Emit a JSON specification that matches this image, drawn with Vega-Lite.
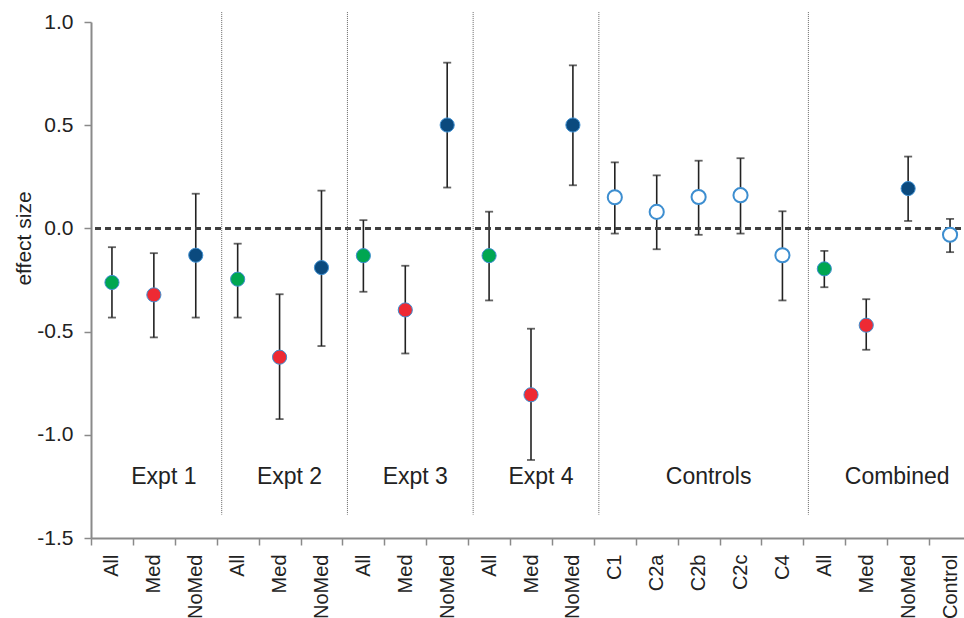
{
  "$schema": "https://vega.github.io/schema/vega-lite/v6.json",
  "autosize": {"type": "none"},
  "padding": {"left": 91, "top": 22, "right": 0, "bottom": 80},
  "width": 880,
  "height": 516,
  "background": "white",
  "config": {
    "view": {"stroke": null},
    "font": "Liberation Sans",
    "axis": {"labelFont": "Liberation Sans", "titleFont": "Liberation Sans"}
  },
  "datasets": {
    "pts": [
      {"id": "1|All", "type": "All", "es": -0.262, "lo": -0.432, "hi": -0.091},
      {"id": "1|Med", "type": "Med", "es": -0.322, "lo": -0.528, "hi": -0.12},
      {"id": "1|NoMed", "type": "NoMed", "es": -0.13, "lo": -0.432, "hi": 0.168},
      {"id": "2|All", "type": "All", "es": -0.246, "lo": -0.432, "hi": -0.074},
      {"id": "2|Med", "type": "Med", "es": -0.624, "lo": -0.924, "hi": -0.319},
      {"id": "2|NoMed", "type": "NoMed", "es": -0.19, "lo": -0.57, "hi": 0.183},
      {"id": "3|All", "type": "All", "es": -0.132, "lo": -0.307, "hi": 0.04},
      {"id": "3|Med", "type": "Med", "es": -0.395, "lo": -0.606, "hi": -0.181},
      {"id": "3|NoMed", "type": "NoMed", "es": 0.501, "lo": 0.198, "hi": 0.803},
      {"id": "4|All", "type": "All", "es": -0.132, "lo": -0.349, "hi": 0.081},
      {"id": "4|Med", "type": "Med", "es": -0.806, "lo": -1.122, "hi": -0.486},
      {"id": "4|NoMed", "type": "NoMed", "es": 0.501, "lo": 0.209, "hi": 0.79},
      {"id": "C|C1", "type": "Control", "es": 0.151, "lo": -0.025, "hi": 0.32},
      {"id": "C|C2a", "type": "Control", "es": 0.08, "lo": -0.101, "hi": 0.257},
      {"id": "C|C2b", "type": "Control", "es": 0.152, "lo": -0.031, "hi": 0.328},
      {"id": "C|C2c", "type": "Control", "es": 0.161, "lo": -0.025, "hi": 0.34},
      {"id": "C|C4", "type": "Control", "es": -0.13, "lo": -0.349, "hi": 0.083},
      {"id": "M|All", "type": "All", "es": -0.196, "lo": -0.285, "hi": -0.109},
      {"id": "M|Med", "type": "Med", "es": -0.469, "lo": -0.588, "hi": -0.343},
      {"id": "M|NoMed", "type": "NoMed", "es": 0.193, "lo": 0.036, "hi": 0.348},
      {"id": "M|Control", "type": "Control", "es": -0.031, "lo": -0.115, "hi": 0.046}
    ],
    "seps": [
      {"id": "2|All"}, {"id": "3|All"}, {"id": "4|All"}, {"id": "C|C1"}, {"id": "M|All"}
    ],
    "labels": [
      {"label": "Expt 1", "anchor": "1|Med", "kind": "mid"},
      {"label": "Expt 2", "anchor": "2|Med", "kind": "mid"},
      {"label": "Expt 3", "anchor": "3|Med", "kind": "mid"},
      {"label": "Expt 4", "anchor": "4|Med", "kind": "mid"},
      {"label": "Controls", "anchor": "C|C2b", "kind": "mid"},
      {"label": "Combined", "anchor": "M|NoMed", "kind": "edge"}
    ]
  },
  "layer": [
    {
      "data": {"name": "pts"},
      "mark": {"type": "rule", "color": "#222222", "strokeWidth": 1.6},
      "encoding": {
        "x": {
          "field": "id", "type": "nominal",
          "scale": {
            "type": "band", "paddingInner": 0, "paddingOuter": 0,
            "domain": ["1|All","1|Med","1|NoMed","2|All","2|Med","2|NoMed","3|All","3|Med","3|NoMed","4|All","4|Med","4|NoMed","C|C1","C|C2a","C|C2b","C|C2c","C|C4","M|All","M|Med","M|NoMed","M|Control"]
          },
          "axis": {
            "title": null,
            "labelExpr": "split(datum.value, '|')[1]",
            "labelAngle": 270,
            "labelFontSize": 20,
            "labelColor": "#222222",
            "labelPadding": 9,
            "tickBand": "extent",
            "tickSize": 7,
            "tickWidth": 1.5,
            "tickColor": "#8a8a8a",
            "domainColor": "#8a8a8a",
            "domainWidth": 2,
            "grid": false
          }
        },
        "y": {
          "field": "lo", "type": "quantitative",
          "scale": {"domain": [-1.5, 1.0], "nice": false, "zero": false},
          "axis": {
            "title": "effect size",
            "titleFontSize": 21,
            "titleFontWeight": "normal",
            "titleColor": "#222222",
            "titleX": -67,
            "titleY": 216,
            "titleAngle": 270,
            "titleAlign": "center",
            "titleBaseline": "middle",
            "values": [-1.5, -1.0, -0.5, 0, 0.5, 1.0],
            "labelExpr": "datum.value < 0 ? '-' + format(-datum.value, '.1f') : format(datum.value, '.1f')",
            "labelFontSize": 21,
            "labelColor": "#222222",
            "labelPadding": 11,
            "tickSize": 7,
            "tickWidth": 1.5,
            "tickColor": "#8a8a8a",
            "domainColor": "#8a8a8a",
            "domainWidth": 2,
            "grid": false
          }
        },
        "y2": {"field": "hi"}
      }
    },
    {
      "data": {"name": "pts"},
      "mark": {"type": "tick", "color": "#222222", "size": 8, "thickness": 1.8},
      "encoding": {
        "x": {"field": "id", "type": "nominal"},
        "y": {"field": "lo", "type": "quantitative"}
      }
    },
    {
      "data": {"name": "pts"},
      "mark": {"type": "tick", "color": "#222222", "size": 8, "thickness": 1.8},
      "encoding": {
        "x": {"field": "id", "type": "nominal"},
        "y": {"field": "hi", "type": "quantitative"}
      }
    },
    {
      "data": {"name": "pts"},
      "mark": {"type": "rule", "color": "#404040", "strokeWidth": 1.5, "strokeDash": [6, 4]},
      "encoding": {"y": {"datum": 0}}
    },
    {
      "data": {"name": "seps"},
      "mark": {"type": "rule", "color": "#666666", "strokeWidth": 1, "strokeDash": [1, 1], "xOffset": 5},
      "encoding": {
        "x": {"field": "id", "type": "nominal", "bandPosition": 0},
        "y": {"datum": 1.048},
        "y2": {"datum": -1.387}
      }
    },
    {
      "data": {"name": "pts"},
      "mark": {"type": "point", "filled": true, "size": 200, "opacity": 1, "stroke": "#3d8ed0"},
      "encoding": {
        "x": {"field": "id", "type": "nominal"},
        "y": {"field": "es", "type": "quantitative"},
        "fill": {
          "field": "type", "type": "nominal",
          "scale": {"domain": ["All", "Med", "NoMed", "Control"], "range": ["#00a651", "#ee2a33", "#0b4a7e", "#ffffff"]},
          "legend": null
        },
        "strokeWidth": {"condition": {"test": "datum.type === 'Control'", "value": 2}, "value": 1}
      }
    },
    {
      "data": {"name": "labels"},
      "transform": [{"filter": "datum.kind === 'mid'"}],
      "mark": {"type": "text", "fontSize": 23, "color": "#222222", "align": "center", "baseline": "middle", "xOffset": 10},
      "encoding": {
        "x": {"field": "anchor", "type": "nominal"},
        "y": {"datum": -1.203},
        "text": {"field": "label"}
      }
    },
    {
      "data": {"name": "labels"},
      "transform": [{"filter": "datum.kind === 'edge'"}],
      "mark": {"type": "text", "fontSize": 23, "color": "#222222", "align": "center", "baseline": "middle", "xOffset": 10},
      "encoding": {
        "x": {"field": "anchor", "type": "nominal", "bandPosition": 0},
        "y": {"datum": -1.203},
        "text": {"field": "label"}
      }
    }
  ]
}
